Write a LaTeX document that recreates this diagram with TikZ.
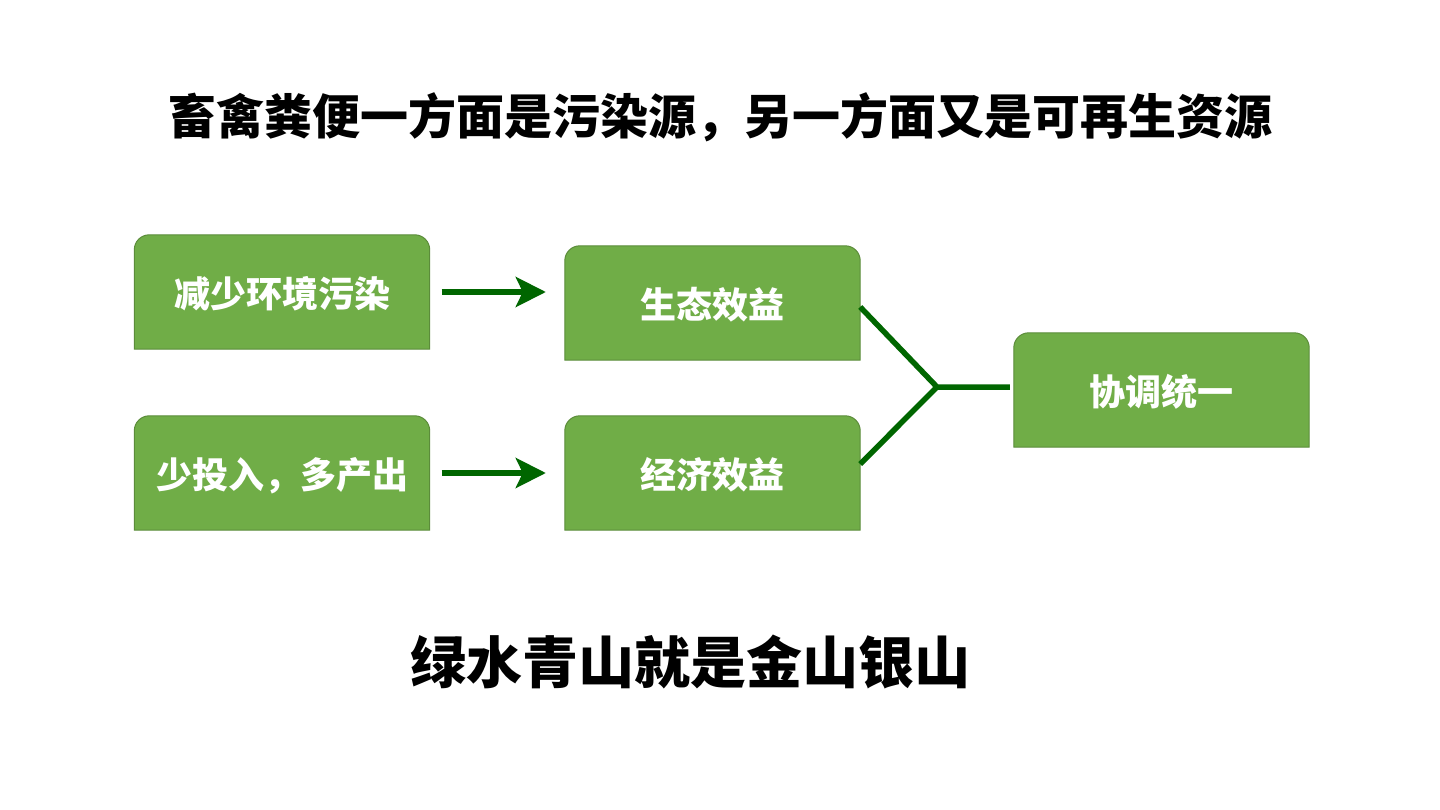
\documentclass[tikz,border=0pt]{standalone}
\usepackage{fontspec}
\newfontfamily\cjk{Noto Sans CJK SC}
\usetikzlibrary{arrows.meta,backgrounds,positioning}
\definecolor{boxgreen}{HTML}{70AD47}
\definecolor{boxedge}{HTML}{5B8C3A}
\definecolor{linkgreen}{HTML}{006600}
\tikzstyle{greenbox} = [minimum width=295pt, minimum height=114pt, text=white, font=\cjk\bfseries\fontsize{36}{42}\selectfont, inner sep=0pt, text depth=0pt]
\tikzstyle{link} = [line width=5.5pt, draw=linkgreen]
\tikzstyle{pointer} = [link, -{Stealth[length=30pt,width=30pt,inset=7pt]}, shorten <=12pt, shorten >=19pt]

\begin{document}
\begin{tikzpicture}[x=1pt, y=-1pt]
\useasboundingbox (0,0) rectangle (1440,810);

\node (title) at (720,117) {\cjk\bfseries\fontsize{48}{56}\selectfont 畜禽粪便一方面是污染源，另一方面又是可再生资源};

\node (jianshao) [greenbox] at (282,292) {减少环境污染};
\node (touru) [greenbox] at (282,473) {少投入，多产出};
\node (shengtai) [greenbox] at (712.5,303) {生态效益};
\node (jingji) [greenbox] at (712.5,473) {经济效益};
\node (xietiao) [greenbox] at (1161.5,390) {协调统一};
\coordinate (hub) at (937,387);

\node (motto) at (690,662) {\cjk\bfseries\fontsize{56}{64}\selectfont 绿水青山就是金山银山};

% boxes: rounded only on top
\begin{scope}[on background layer]
\fill[white] (0,0) rectangle (1440,810);
\foreach \b in {jianshao,touru,shengtai,jingji,xietiao}
  \draw[fill=boxgreen, draw=boxedge, line width=1pt]
    (\b.south west) [rounded corners=15pt] -- (\b.north west) -- (\b.north east) [sharp corners] -- (\b.south east) -- cycle;
\end{scope}

\draw[pointer] (jianshao.east) -- (jianshao.east -| shengtai.west);
\draw[pointer] (touru.east) -- (touru.east -| jingji.west);
\draw[link] (shengtai.east |- 0,307) -- (hub) -- ([xshift=-4pt]xietiao.west |- hub);
\draw[link] (jingji.east |- 0,464) -- (hub);
\end{tikzpicture}
\end{document}
